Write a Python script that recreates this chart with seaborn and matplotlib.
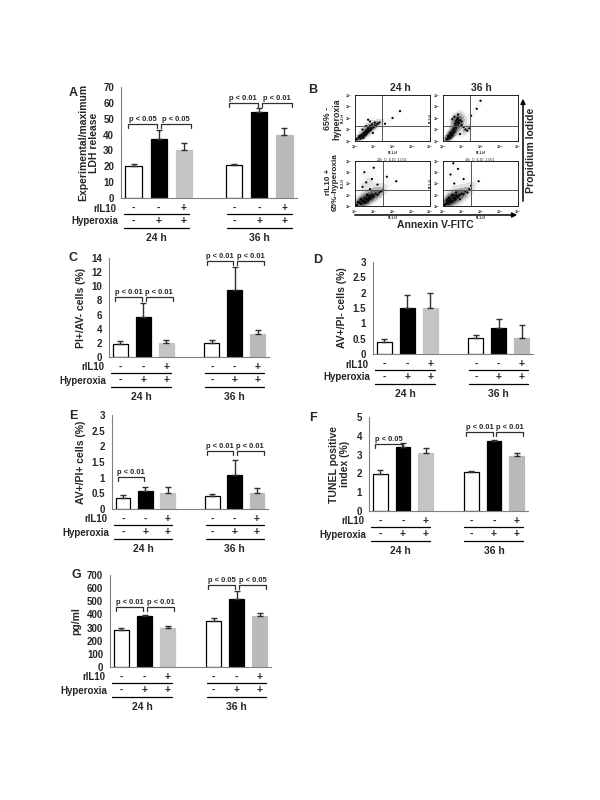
import numpy as np
import pandas as pd
import matplotlib
matplotlib.use("Agg")
import matplotlib.pyplot as plt
import matplotlib.transforms as mtrans
from matplotlib.patches import FancyArrowPatch
import seaborn as sns

sns.set_theme(style="white")
plt.rcParams["font.family"] = ["Liberation Sans", "DejaVu Sans"]
plt.rcParams["font.weight"] = "bold"
plt.rcParams["axes.labelweight"] = "bold"

# categories (one empty slot between the time points)
slots = ["24_ctl", "24_hyp", "24_il10", "gap", "36_ctl", "36_hyp", "36_il10"]
bar_slots = ["24_ctl", "24_hyp", "24_il10", "36_ctl", "36_hyp", "36_il10"]
rIL10_signs = ["-", "-", "+", "-", "-", "+"]
hyperoxia_signs = ["-", "+", "+", "-", "+", "+"]
time_labels = ["24 h", "36 h"]

# A: LDH release
ldh_mean = [20, 37, 30.5, 21, 54.5, 40]
ldh_err = [1.5, 6, 4, 0.7, 2.5, 4]
ldh_p = [("24_ctl", "24_hyp", 46.5, "p < 0.05"), ("24_hyp", "24_il10", 46.5, "p < 0.05"),
         ("36_ctl", "36_hyp", 60, "p < 0.01"), ("36_hyp", "36_il10", 60, "p < 0.01")]

# C: PI+/AV- cells
piav_mean = [1.9, 5.7, 2.05, 1.95, 9.5, 3.25]
piav_err = [0.4, 1.9, 0.4, 0.45, 3.2, 0.6]
piav_p = [("24_ctl", "24_hyp", 8.5, "p < 0.01"), ("24_hyp", "24_il10", 8.5, "p < 0.01"),
          ("36_ctl", "36_hyp", 13.6, "p < 0.01"), ("36_hyp", "36_il10", 13.6, "p < 0.01")]

# D: AV+/PI- cells
avpi_neg_mean = [0.4, 1.5, 1.5, 0.52, 0.85, 0.52]
avpi_neg_err = [0.1, 0.43, 0.48, 0.1, 0.3, 0.43]

# E: AV+/PI+ cells
avpi_pos_mean = [0.36, 0.57, 0.52, 0.4, 1.07, 0.5]
avpi_pos_err = [0.09, 0.12, 0.18, 0.08, 0.48, 0.18]
avpi_pos_p = [("24_ctl", "24_hyp", 1.01, "p < 0.01"),
              ("36_ctl", "36_hyp", 1.86, "p < 0.01"), ("36_hyp", "36_il10", 1.86, "p < 0.01")]

# F: TUNEL
tunel_mean = [1.95, 3.42, 3.08, 2.05, 3.7, 2.9]
tunel_err = [0.22, 0.22, 0.28, 0.1, 0.07, 0.2]
tunel_p = [("24_ctl", "24_hyp", 3.55, "p < 0.05"),
           ("36_ctl", "36_hyp", 4.22, "p < 0.01"), ("36_hyp", "36_il10", 4.22, "p < 0.01")]

# G: pg/ml
pg_mean = [285, 385, 300, 350, 515, 390]
pg_err = [8, 8, 12, 22, 65, 20]
pg_p = [("24_ctl", "24_hyp", 454, "p < 0.01"), ("24_hyp", "24_il10", 454, "p < 0.01"),
        ("36_ctl", "36_hyp", 624, "p < 0.05"), ("36_hyp", "36_il10", 624, "p < 0.05")]

# B: flow cytometry clouds (log10 FL1-H, log10 FL2-H), rough read of the dot plots
flow_titles = ["", "", "24h_O_IL10_1.001", "36h_O_IL10_2.001"]
flow_x = [
    [0.1, 0.2, 0.3, 0.35, 0.45, 0.5, 0.55, 0.6, 0.65, 0.7, 0.75, 0.8, 0.85, 0.9, 1.0, 1.05, 1.1, 1.2, 1.3, 0.4, 0.6, 0.8, 1.6, 2.0, 2.4, 0.7, 0.95, 0.25, 0.45],
    [0.2, 0.3, 0.35, 0.45, 0.5, 0.55, 0.6, 0.65, 0.7, 0.75, 0.8, 0.85, 0.9, 1.0, 1.1, 1.2, 1.3, 1.4, 0.6, 0.8, 1.0, 1.5, 1.8, 2.0, 0.9, 0.7, 0.5, 0.25, 0.4],
    [0.1, 0.2, 0.3, 0.4, 0.5, 0.6, 0.7, 0.75, 0.8, 0.9, 1.0, 1.1, 1.2, 1.3, 1.4, 1.5, 0.4, 0.6, 0.9, 1.2, 1.7, 0.5, 0.8, 1.0, 2.2, 0.3, 0.65, 0.15, 0.55],
    [0.1, 0.2, 0.3, 0.4, 0.5, 0.6, 0.65, 0.7, 0.8, 0.9, 1.0, 1.1, 1.2, 1.3, 1.4, 0.3, 0.5, 0.7, 0.9, 0.2, 0.6, 1.1, 1.5, 0.4, 0.8, 1.9, 0.55, 0.15, 0.35],
]
flow_y = [
    [0.15, 0.3, 0.2, 0.5, 0.4, 0.7, 0.55, 0.9, 0.75, 1.1, 0.9, 1.3, 1.0, 1.45, 1.2, 1.6, 1.35, 1.5, 1.6, 1.0, 1.3, 1.7, 1.5, 2.0, 2.6, 1.85, 0.7, 0.45, 0.25],
    [0.15, 0.4, 0.3, 0.7, 0.5, 1.0, 0.8, 1.5, 1.7, 1.9, 2.0, 1.6, 1.8, 1.4, 1.2, 1.0, 0.9, 1.1, 2.1, 2.3, 1.7, 2.2, 2.8, 3.5, 0.6, 1.2, 1.9, 0.2, 0.55],
    [0.1, 0.3, 0.2, 0.45, 0.4, 0.6, 0.55, 0.8, 0.7, 0.9, 0.85, 1.1, 1.0, 1.2, 1.3, 1.4, 1.7, 2.1, 2.4, 1.9, 2.6, 3.0, 1.5, 3.4, 2.2, 0.6, 1.0, 0.35, 0.3],
    [0.1, 0.25, 0.3, 0.5, 0.4, 0.7, 0.6, 0.9, 0.8, 1.0, 1.1, 1.05, 1.3, 1.2, 1.5, 0.7, 1.0, 1.2, 0.6, 0.5, 2.0, 2.4, 1.8, 2.8, 3.3, 2.2, 3.8, 0.2, 0.45],
]
flow_vline = [1.45, 1.45, 1.48, 1.48]
flow_hline = [1.3, 1.3, 1.43, 1.43]

W, H = 600, 800
colors = {"24_ctl": "white", "24_hyp": "black", "24_il10": "#c4c4c4",
          "36_ctl": "white", "36_hyp": "black", "36_il10": "#bababa"}
axis_gray = "#808080"
ink = "#303030"

fig = plt.figure(figsize=(6, 8), dpi=100)


def px_axes(x0, y_top, x1, y_bot):
    return fig.add_axes([x0 / W, 1 - y_bot / H, (x1 - x0) / W, (y_bot - y_top) / H])


def ftext(x, y, s, **kw):
    fig.text(x / W, 1 - y / H, s, **kw)


def bar_panel(ax, mean, err, ymax, step, ylabel, pvals, labelpad=4):
    df = pd.DataFrame({"slot": bar_slots, "value": mean})
    sns.barplot(data=df, x="slot", y="value", order=slots, hue="slot", palette=colors,
                width=0.65, errorbar=None, legend=False, ax=ax,
                edgecolor="black", linewidth=0.9)
    for p in ax.patches:
        fc = p.get_facecolor()
        if fc[0] < 0.99:
            p.set_edgecolor(fc)
    pos = [slots.index(s) for s in bar_slots]
    ax.errorbar(pos, mean, yerr=[np.zeros(len(mean)), err], fmt="none",
                ecolor=ink, elinewidth=1.0, capsize=2.5, capthick=1.0)
    ax.set_xlim(-0.5, 6.5)
    ax.set_ylim(0, ymax)
    ticks = np.arange(0, ymax + step / 2, step)
    ax.set_yticks(ticks)
    ax.set_yticklabels([f"{t:g}" for t in ticks], fontsize=7, fontweight="bold")
    ax.set_xticks(np.arange(-0.5, 7, 1))
    ax.set_xticklabels([])
    ax.tick_params(axis="both", direction="out", length=3, width=0.8, color=axis_gray, pad=2)
    ax.set_xlabel("")
    ax.set_ylabel(ylabel, fontsize=7.5, fontweight="bold", labelpad=labelpad, linespacing=1.1)
    for side in ["top", "right"]:
        ax.spines[side].set_visible(False)
    for side in ["left", "bottom"]:
        ax.spines[side].set_color(axis_gray)
        ax.spines[side].set_linewidth(0.8)

    # significance brackets
    bbox = ax.get_position()
    dpx = ymax / (bbox.height * H)
    for a, b, y, txt in pvals:
        i, j = slots.index(a), slots.index(b)
        if colors[a] == "white":
            x1, x2 = i - 0.22, j - 0.06
        else:
            x1, x2 = i + 0.1, j + 0.3
        ax.plot([x1, x1, x2, x2], [y - 4 * dpx, y, y, y - 4 * dpx], color=ink, lw=0.9, clip_on=False)
        ax.text((x1 + x2) / 2, y + 1.0 * dpx, txt, ha="center", va="bottom",
                fontsize=5.4, fontweight="bold", clip_on=False)

    # treatment table under the axis
    base = mtrans.blended_transform_factory(ax.transData, ax.transAxes)

    def off(dy, dx=0, t=base):
        return mtrans.offset_copy(t, fig=fig, x=dx, y=-dy, units="dots")

    xs = [slots.index(s) for s in bar_slots]
    for x, s1, s2 in zip(xs, rIL10_signs, hyperoxia_signs):
        ax.text(x, 0, s1, transform=off(10), ha="center", va="center", fontsize=7.5, fontweight="bold")
        ax.text(x, 0, s2, transform=off(23), ha="center", va="center", fontsize=7.5, fontweight="bold")
    ax.text(0, 0, "rIL10", transform=off(10.5, -5, ax.transAxes), ha="right", va="center",
            fontsize=7, fontweight="bold")
    ax.text(0, 0, "Hyperoxia", transform=off(23.5, -3, ax.transAxes), ha="right", va="center",
            fontsize=7, fontweight="bold")
    for (lo, hi), lab in zip([(-0.4, 2.2), (3.7, 6.3)], time_labels):
        for dy in (15.5, 30):
            ax.plot([lo, hi], [0, 0], transform=off(dy), color="black", lw=0.9, clip_on=False)
        ax.text((lo + hi) / 2, 0, lab, transform=off(40), ha="center", va="center",
                fontsize=7.5, fontweight="bold")


def flow_panel(ax, xs, ys, vline, hline, title):
    sns.kdeplot(x=xs, y=ys, fill=True, cmap="Greys", levels=6, thresh=0.12,
                bw_adjust=0.85, ax=ax)
    sns.scatterplot(x=xs, y=ys, s=2.5, color="black", edgecolor="none", ax=ax)
    ax.axvline(vline, color="#555555", lw=0.7)
    ax.axhline(hline, color="#555555", lw=0.7)
    ax.set_xlim(0, 4)
    ax.set_ylim(0, 4)
    ax.set_xticks(range(5))
    ax.set_yticks(range(5))
    ax.set_xticklabels([f"10$^{i}$" for i in range(5)], fontsize=2.5)
    ax.set_yticklabels([f"10$^{i}$" for i in range(5)], fontsize=2.5)
    ax.tick_params(length=1.2, width=0.4, pad=0.5)
    ax.set_xlabel("FL1-H", fontsize=2.5, labelpad=0)
    ax.set_ylabel("FL2-H", fontsize=2.5, labelpad=0)
    if title:
        ax.set_title(title, fontsize=2.5, pad=0.4)
    for sp in ax.spines.values():
        sp.set_color("black")
        sp.set_linewidth(0.6)


# bar panels
axA = px_axes(121, 87, 297, 198)
bar_panel(axA, ldh_mean, ldh_err, 70, 10, "Experimental/maximum\nLDH release", ldh_p, labelpad=3)
axC = px_axes(109, 258, 269, 357)
bar_panel(axC, piav_mean, piav_err, 14, 2, "PI+/AV- cells (%)", piav_p)
axD = px_axes(373, 262, 533, 354)
bar_panel(axD, avpi_neg_mean, avpi_neg_err, 3, 0.5, "AV+/PI- cells (%)", [])
axE = px_axes(112, 415, 268, 509)
bar_panel(axE, avpi_pos_mean, avpi_pos_err, 3, 0.5, "AV+/PI+ cells (%)", avpi_pos_p)
axF = px_axes(369, 417, 528, 511)
bar_panel(axF, tunel_mean, tunel_err, 5, 1, "TUNEL positive\nindex (%)", tunel_p, labelpad=5)
axG = px_axes(110, 575, 271, 667)
bar_panel(axG, pg_mean, pg_err, 700, 100, "pg/ml", pg_p, labelpad=4)

# flow cytometry panels
flow_boxes = [(355, 95, 430, 141), (443, 95, 518, 141), (355, 161, 430, 206), (443, 161, 518, 206)]
for k, box in enumerate(flow_boxes):
    ax = px_axes(*box)
    flow_panel(ax, flow_x[k], flow_y[k], flow_vline[k], flow_hline[k], flow_titles[k])

ftext(400, 88, "24 h", ha="center", va="center", fontsize=7.5, fontweight="bold")
ftext(481, 88, "36 h", ha="center", va="center", fontsize=7.5, fontweight="bold")
ftext(332, 119, "65% -\nhyperoxia", ha="center", va="center", rotation=90,
      fontsize=6.3, fontweight="bold", linespacing=1.05)
ftext(332, 182, "rIL10 +\n65%-hyperoxia", ha="center", va="center", rotation=90,
      fontsize=5.9, fontweight="bold", linespacing=1.05)
ftext(435, 225, "Annexin V-FITC", ha="center", va="center", fontsize=7.5, fontweight="bold")
ftext(531, 150, "Propidium Iodide", ha="center", va="center", rotation=90,
      fontsize=7.5, fontweight="bold")
fig.add_artist(FancyArrowPatch((352 / W, 1 - 215 / H), (520 / W, 1 - 215 / H),
                               transform=fig.transFigure, arrowstyle="-|>",
                               mutation_scale=7, lw=1.1, color="black"))
fig.add_artist(FancyArrowPatch((523 / W, 1 - 204 / H), (523 / W, 1 - 96 / H),
                               transform=fig.transFigure, arrowstyle="-|>",
                               mutation_scale=7, lw=1.1, color="black"))

# panel letters
for lab, x, y in [("A", 73, 93), ("B", 313, 90), ("C", 73, 258), ("D", 318, 260),
                  ("E", 73, 416), ("F", 313, 418), ("G", 76, 575)]:
    ftext(x, y, lab, ha="center", va="center", fontsize=9, fontweight="bold")

fig.savefig("out.png", dpi=100)
